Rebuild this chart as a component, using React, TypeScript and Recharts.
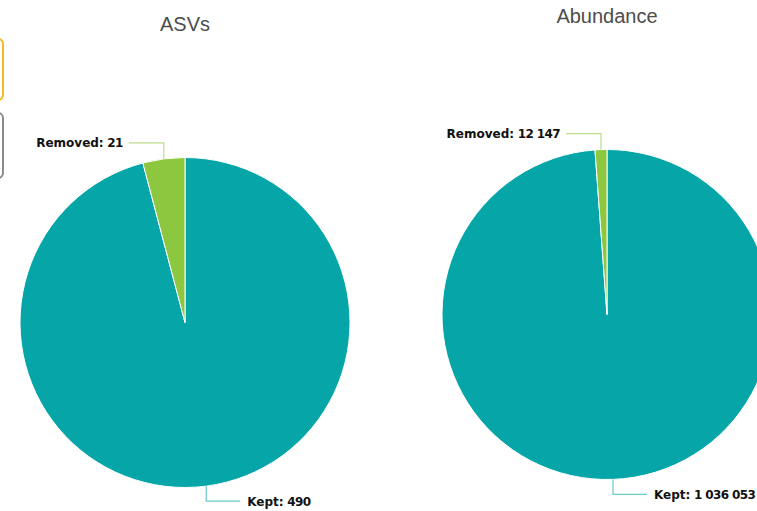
import React from "react";
import { PieChart, Pie, Cell } from "recharts";

// ASVs kept vs removed after filtering
const asvNames = ["Kept", "Removed"];
const asvValues = [490, 21];

// read abundance kept vs removed
const abundanceNames = ["Kept", "Removed"];
const abundanceValues = [1036053, 12147];

const sliceColors = ["#05a5a8", "#8dc63f"];

const RAD = Math.PI / 180;

const formatNumber = (v: number) =>
  String(v).replace(/\B(?=(\d{3})+(?!\d))/g, " ");

type LabelProps = {
  cx: number;
  cy: number;
  midAngle: number;
  outerRadius: number;
  name: string;
  value: number;
  index: number;
};

// elbow connector: straight up/down from the slice edge, then sideways
const elbow = (p: LabelProps) => {
  const sx = p.cx + p.outerRadius * Math.cos(-p.midAngle * RAD);
  const sy = p.cy + p.outerRadius * Math.sin(-p.midAngle * RAD);
  const up = sy < p.cy;
  const right = sx >= p.cx;
  const ey = up ? sy - 16 : sy + 15;
  const ex = right ? sx + 34 : sx - 35;
  return { sx, sy, ex, ey, right };
};

const renderLine = (p: LabelProps) => {
  const { sx, sy, ex, ey } = elbow(p);
  return (
    <path
      key={`line-${p.index}`}
      d={`M${sx},${sy}L${sx},${ey}L${ex},${ey}`}
      stroke={sliceColors[p.index]}
      strokeOpacity={0.6}
      strokeWidth={1.2}
      fill="none"
    />
  );
};

const renderLabel = (p: LabelProps) => {
  const { ex, ey, right } = elbow(p);
  return (
    <text
      key={`label-${p.index}`}
      x={right ? ex + 7 : ex - 6}
      y={ey}
      dy={4.5}
      textAnchor={right ? "start" : "end"}
      fill="#111"
      fontSize={12}
      fontWeight="bold"
      fontFamily="'DejaVu Sans', Verdana, sans-serif"
    >
      <tspan>{`${p.name}:`}</tspan>
      <tspan letterSpacing={-0.6}>{` ${formatNumber(p.value)}`}</tspan>
    </text>
  );
};

type PieBoxProps = {
  title: string;
  names: string[];
  values: number[];
  left: number;
  top: number;
};

const PieBox = ({ title, names, values, left, top }: PieBoxProps) => {
  const data = names.map((name, i) => ({ name, value: values[i] }));
  return (
    <div style={{ position: "absolute", left, top, width: 370, height: 511 }}>
      <div
        style={{
          position: "absolute",
          left: 0,
          top: 4.5,
          width: 370,
          textAlign: "center",
          fontFamily: "'Liberation Sans', Arial, sans-serif",
          fontSize: 20,
          color: "#4d4d4d",
        }}
      >
        {title}
      </div>
      <PieChart
        width={370}
        height={511}
        margin={{ top: 0, right: 0, bottom: 0, left: 0 }}
      >
        <Pie
          data={data}
          dataKey="value"
          nameKey="name"
          cx={185}
          cy={314.5}
          outerRadius={165}
          startAngle={90}
          endAngle={-270}
          stroke="#fff"
          strokeWidth={1}
          label={renderLabel}
          labelLine={renderLine}
          isAnimationActive={false}
        >
          {data.map((d, i) => (
            <Cell key={d.name} fill={sliceColors[i]} />
          ))}
        </Pie>
      </PieChart>
    </div>
  );
};

export default function App() {
  return (
    <div
      style={{
        position: "fixed",
        left: 0,
        top: 0,
        width: 757,
        height: 511,
        overflow: "hidden",
        background: "#fff",
      }}
    >
      {/* edges of the toolbar buttons at the left */}
      <div
        style={{
          position: "absolute",
          left: -40,
          top: 38,
          width: 40,
          height: 59,
          border: "2px solid #f8b825",
          borderRadius: 6,
        }}
      />
      <div
        style={{
          position: "absolute",
          left: -40,
          top: 112,
          width: 40,
          height: 63,
          border: "2px solid #8c8c8c",
          borderRadius: 6,
        }}
      />
      <PieBox title="ASVs" names={asvNames} values={asvValues} left={0} top={8} />
      <PieBox
        title="Abundance"
        names={abundanceNames}
        values={abundanceValues}
        left={422}
        top={0}
      />
    </div>
  );
}
